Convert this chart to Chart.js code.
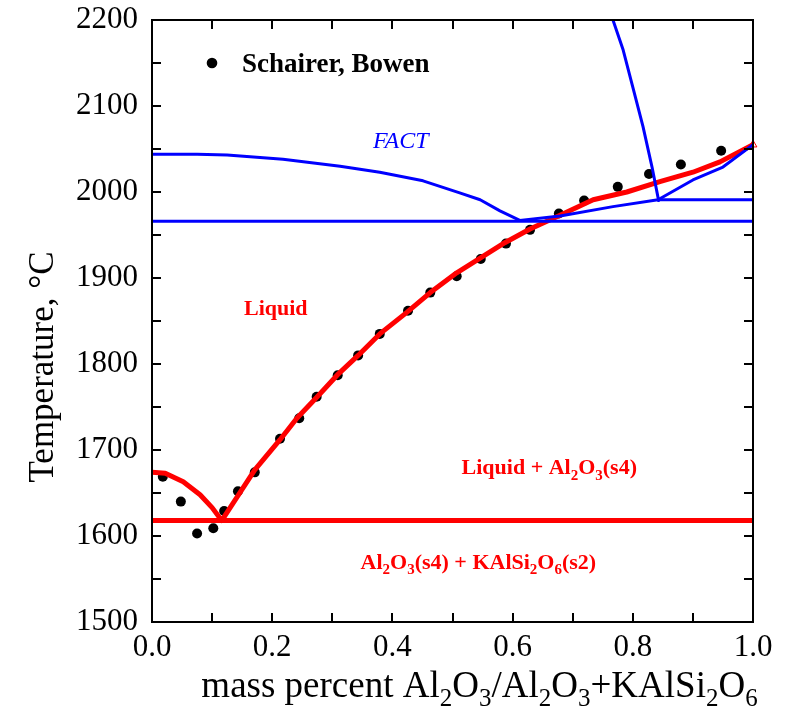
<!DOCTYPE html>
<html>
<head>
<meta charset="utf-8">
<script src="https://cdn.jsdelivr.net/npm/chart.js@4"></script>
<style>html,body{margin:0;padding:0;background:#fff;}</style>
</head>
<body>
<canvas id="c" width="792" height="711"></canvas>
<script>
// ---------- data ----------
const xTickLabels = ['0.0', '0.2', '0.4', '0.6', '0.8', '1.0'];
const yTickLabels = ['1500', '1600', '1700', '1800', '1900', '2000', '2100', '2200'];

// Experimental points (Schairer, Bowen)
const expX = [0.018, 0.048, 0.075, 0.102, 0.120, 0.143, 0.171, 0.213, 0.245, 0.274, 0.309, 0.343, 0.379,
              0.426, 0.463, 0.507, 0.547, 0.589, 0.629, 0.677, 0.719, 0.775, 0.827, 0.880, 0.947];
const expT = [1669, 1640, 1603, 1609, 1629, 1652, 1674, 1713, 1737, 1762, 1787, 1810, 1835,
              1862, 1883, 1902, 1922, 1940, 1956, 1975, 1990, 2006, 2021, 2032, 2048];

// Calculated liquidus (red)
const liqX = [0.000, 0.022, 0.052, 0.080, 0.100, 0.116, 0.171, 0.213, 0.241, 0.275, 0.308, 0.343, 0.379,
              0.424, 0.463, 0.507, 0.546, 0.587, 0.629, 0.679, 0.734, 0.790, 0.845, 0.900, 0.945, 1.000];
const liqT = [1674, 1673, 1663, 1648, 1633, 1618, 1677, 1712, 1737, 1762, 1787, 1810, 1835,
              1860, 1883, 1906, 1923, 1941, 1957, 1973, 1991, 2000, 2012, 2023, 2035, 2055];

// Eutectic line (red)
const eutX = [0.0, 1.0];
const eutT = [1618, 1618];

// Melting point marker of Al2O3
const meltX = [1.0];
const meltT = [2055];

// FACT curves (blue)
const factHX = [0.0, 1.0];
const factHT = [1966, 1966];
const factUpX = [0.000, 0.075, 0.125, 0.218, 0.313, 0.379, 0.451, 0.512, 0.546, 0.579, 0.612];
const factUpT = [2044, 2044, 2043, 2038, 2030, 2023, 2013, 1999, 1991, 1978, 1967];
const factLoX = [0.612, 0.679, 0.767, 0.842, 0.900, 0.950, 1.000];
const factLoT = [1967, 1972, 1983, 1991, 2014, 2029, 2055];
const factShelfX = [0.842, 1.0];
const factShelfT = [1991, 1991];
const factSteepX = [0.767, 0.784, 0.800, 0.817, 0.832, 0.843];
const factSteepT = [2200, 2165, 2122, 2076, 2029, 1990];

// ---------- helpers ----------
const zip = (xs, ys) => xs.map((v, i) => ({x: v, y: ys[i]}));
const FONT = '"Liberation Serif", "Times New Roman", serif';
const RED = '#ff0000';
const BLUE = '#0000ff';

function lineDs(xs, ys, color, width) {
  return {data: zip(xs, ys), borderColor: color, borderWidth: width, pointRadius: 0,
          showLine: true, fill: false, tension: 0, borderCapStyle: 'round', borderJoinStyle: 'round'};
}

// text with subscripts: parts = [[text, isSub], ...]
function drawRich(ctx, parts, x, baseline, size, weight, style, color, align) {
  const subSize = Math.round(size * 0.68);
  const fMain = `${style} ${weight} ${size}px ${FONT}`;
  const fSub = `${style} ${weight} ${subSize}px ${FONT}`;
  let w = 0;
  parts.forEach(p => { ctx.font = p[1] ? fSub : fMain; w += ctx.measureText(p[0]).width; });
  let cx = align === 'center' ? x - w / 2 : x;
  ctx.fillStyle = color;
  ctx.textAlign = 'left';
  ctx.textBaseline = 'alphabetic';
  parts.forEach(p => {
    ctx.font = p[1] ? fSub : fMain;
    ctx.fillText(p[0], cx, baseline + (p[1] ? size * 0.24 : 0));
    cx += ctx.measureText(p[0]).width;
  });
}

const annotations = [
  {parts: [['FACT', false]], x: 0.414, T: 2060, size: 24, weight: 'normal', style: 'italic', color: BLUE},
  {parts: [['Liquid', false]], x: 0.206, T: 1866, size: 22, weight: 'bold', style: 'normal', color: RED},
  {parts: [['Liquid + Al', false], ['2', true], ['O', false], ['3', true], ['(s4)', false]],
   x: 0.661, T: 1680, size: 22, weight: 'bold', style: 'normal', color: RED},
  {parts: [['Al', false], ['2', true], ['O', false], ['3', true], ['(s4) + KAlSi', false], ['2', true],
           ['O', false], ['6', true], ['(s2)', false]],
   x: 0.543, T: 1570, size: 22, weight: 'bold', style: 'normal', color: RED}
];

const decor = {
  id: 'decor',
  afterDatasetsDraw(chart) {
    const {ctx, chartArea: a, scales: {x, y}} = chart;
    ctx.save();
    // frame and inward ticks
    ctx.strokeStyle = '#000';
    ctx.lineWidth = 2;
    ctx.beginPath();
    const tl = 9;
    x.ticks.forEach(t => {
      const p = Math.round(x.getPixelForValue(t.value));
      ctx.moveTo(p, a.bottom); ctx.lineTo(p, a.bottom - tl);
      ctx.moveTo(p, a.top); ctx.lineTo(p, a.top + tl);
    });
    y.ticks.forEach(t => {
      const p = Math.round(y.getPixelForValue(t.value));
      ctx.moveTo(a.left, p); ctx.lineTo(a.left + tl, p);
      ctx.moveTo(a.right, p); ctx.lineTo(a.right - tl, p);
    });
    ctx.stroke();
    ctx.strokeRect(a.left, a.top, a.right - a.left, a.bottom - a.top);

    // annotations
    annotations.forEach(an => {
      const px = x.getPixelForValue(an.x);
      const py = y.getPixelForValue(an.T) + an.size * 0.33;
      drawRich(ctx, an.parts, px, py, an.size, an.weight, an.style, an.color, 'center');
    });

    // legend
    ctx.fillStyle = '#000';
    ctx.beginPath();
    ctx.arc(a.left + 60, a.top + 43, 5.3, 0, Math.PI * 2);
    ctx.fill();
    drawRich(ctx, [['Schairer, Bowen', false]], a.left + 90, a.top + 52, 27, 'bold', 'normal', '#000', 'left');

    // axis titles
    drawRich(ctx, [['mass percent Al', false], ['2', true], ['O', false], ['3', true], ['/Al', false], ['2', true],
                   ['O', false], ['3', true], ['+KAlSi', false], ['2', true], ['O', false], ['6', true]],
             (a.left + a.right) / 2 + 27, 697, 37, 'normal', 'normal', '#000', 'center');

    ctx.translate(53, (a.top + a.bottom) / 2 + 46);
    ctx.rotate(-Math.PI / 2);
    ctx.font = `35px ${FONT}`;
    ctx.fillStyle = '#000';
    ctx.textAlign = 'center';
    ctx.textBaseline = 'alphabetic';
    ctx.fillText('Temperature, °C', 0, 0);
    ctx.restore();
  }
};

new Chart(document.getElementById('c'), {
  type: 'scatter',
  data: {
    datasets: [
      lineDs(factHX, factHT, BLUE, 3),
      lineDs(factUpX, factUpT, BLUE, 3),
      lineDs(factLoX, factLoT, BLUE, 3),
      lineDs(factShelfX, factShelfT, BLUE, 3),
      lineDs(factSteepX, factSteepT, BLUE, 3),
      lineDs(liqX, liqT, RED, 5),
      lineDs(eutX, eutT, RED, 5),
      {data: zip(meltX, meltT), pointStyle: 'triangle', pointRadius: 4.5, borderColor: RED,
       backgroundColor: 'rgba(255,255,255,0)', borderWidth: 1, showLine: false, clip: false},
      {data: zip(expX, expT), pointStyle: 'circle', pointRadius: 5, borderWidth: 0,
       backgroundColor: '#000', borderColor: '#000', showLine: false}
    ]
  },
  options: {
    responsive: false,
    animation: false,
    devicePixelRatio: 1,
    layout: {padding: {left: 0, right: 39, top: 20, bottom: 0}},
    plugins: {legend: {display: false}, tooltip: {enabled: false}, title: {display: false}},
    scales: {
      x: {
        type: 'linear', min: 0, max: 1,
        grid: {display: false, drawTicks: false},
        border: {display: false},
        ticks: {
          stepSize: 0.1, autoSkip: false, maxRotation: 0, padding: 7, color: '#000',
          font: {family: FONT, size: 31},
          callback: v => { const s = (Math.round(v * 10) / 10).toFixed(1); return xTickLabels.includes(s) ? s : ''; }
        },
        afterFit: s => { s.height = 89; s.paddingLeft = 0; s.paddingRight = 0; }
      },
      y: {
        type: 'linear', min: 1500, max: 2200,
        grid: {display: false, drawTicks: false},
        border: {display: false},
        ticks: {
          stepSize: 50, autoSkip: false, padding: 14, color: '#000',
          font: {family: FONT, size: 31},
          callback: v => { const s = String(Math.round(v)); return yTickLabels.includes(s) ? s : ''; }
        },
        afterFit: s => { s.width = 152; s.paddingTop = 0; s.paddingBottom = 0; }
      }
    }
  },
  plugins: [decor]
});
</script>
</body>
</html>
